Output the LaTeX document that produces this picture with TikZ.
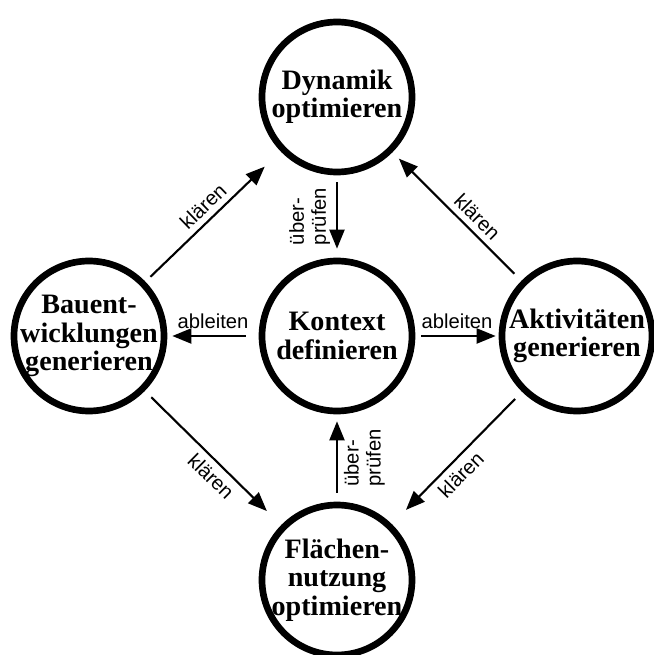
\documentclass[tikz,border=0pt]{standalone}
\usepackage{fontspec}
\setmainfont{Liberation Serif}
\setsansfont{Liberation Sans}
\usetikzlibrary{arrows.meta}

\begin{document}
\begin{tikzpicture}[>={Triangle[length=0.38cm,width=0.3cm]},
  stn/.style={circle, draw, line width=3.8pt, minimum size=3cm, inner sep=0pt},
  txt/.style={align=center, font=\fontsize{16}{16.2}\selectfont\bfseries},
  lnk/.style={->, line width=1.2pt},
  lbl/.style={font=\sffamily\fontsize{11.5}{12.5}\selectfont}]
  \useasboundingbox (-6.74,-6.38) rectangle (6.34,6.72);
  % stations
  \node[stn, label={[txt]center:{Kontext\\definieren}}] (ktx) at (0,0) {};
  \node[stn, label={[txt]center:{Dynamik\\optimieren}}] (dyn) at (0,4.78) {};
  \node[stn, label={[txt]center:{Bauent-\\wicklungen\\generieren}}] (bau) at (-4.96,0) {};
  \node[stn, label={[txt]center:{Aktivitäten\\generieren}}] (akt) at (4.8,0) {};
  \node[stn, label={[txt]center:{Flächen-\\nutzung\\optimieren}}] (fla) at (0,-4.88) {};
  % ableiten
  \draw[lnk, shorten <=0.26cm, shorten >=0.1cm] (ktx) -- (bau)
    node[lbl, midway, above] {ableiten};
  \draw[lnk, shorten <=0.12cm, shorten >=0.06cm] (ktx) -- (akt)
    node[lbl, midway, above] {ableiten};
  % überprüfen
  \draw[lnk, shorten <=0.14cm, shorten >=0.18cm] (dyn) -- (ktx)
    node[lbl, midway, rotate=90, above, align=left] {über-\\prüfen};
  \draw[lnk, shorten <=0.18cm, shorten >=0.14cm] (fla) -- (ktx)
    node[lbl, midway, rotate=90, below, align=left] {über-\\prüfen};
  % klären
  \draw[lnk, shorten <=0.14cm, shorten >=0.44cm] (bau) -- (dyn)
    node[lbl, pos=0.5, sloped, above] {klären};
  \draw[lnk, shorten <=0.2cm, shorten >=0.18cm] (akt) -- (dyn)
    node[lbl, pos=0.42, sloped, above] {klären};
  \draw[lnk, shorten <=0.18cm, shorten >=0.4cm] (bau) -- (fla)
    node[lbl, pos=0.56, sloped, below] {klären};
  \draw[lnk, shorten <=0.2cm, shorten >=0.4cm] (akt) -- (fla)
    node[lbl, pos=0.55, sloped, below] {klären};
\end{tikzpicture}
\end{document}
